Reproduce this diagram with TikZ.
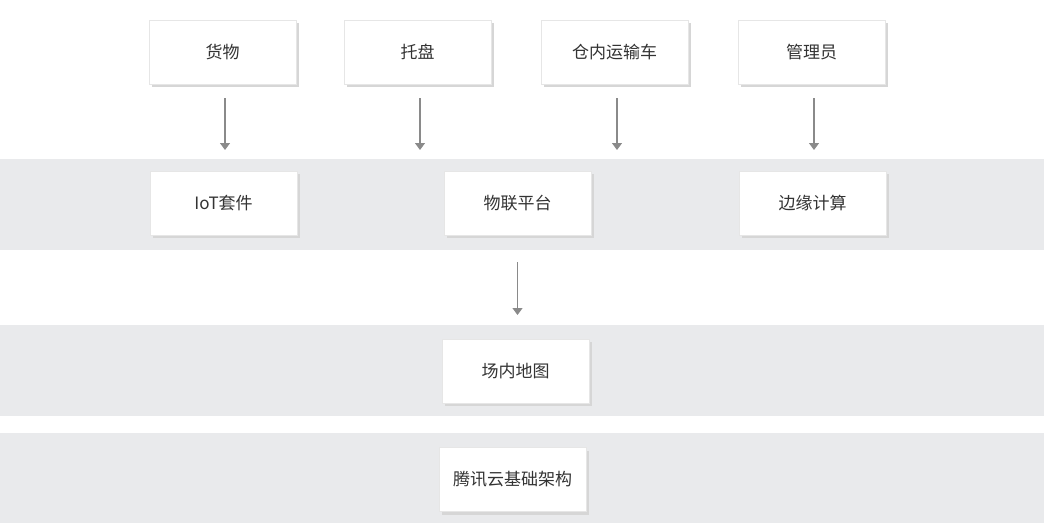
\documentclass[tikz,border=0pt]{standalone}
\usepackage{fontspec}
\setmainfont{Noto Sans CJK SC}
\usetikzlibrary{arrows.meta}
\usetikzlibrary{shadows}

\definecolor{bandgray}{HTML}{E9EAEC}
\definecolor{boxline}{HTML}{E6E6E6}
\definecolor{textgray}{HTML}{333333}
\definecolor{arrowgray}{HTML}{8A8A8A}
\definecolor{shadowgray}{HTML}{D6D6D6}

\tikzset{
    band/.style={fill=bandgray, draw=none},
    card/.style={draw=boxline, fill=white, minimum width=147pt, minimum height=64pt,
        inner sep=0pt, text=textgray, font=\fontsize{17pt}{19pt}\selectfont,
        drop shadow={shadow xshift=2.5pt, shadow yshift=-3pt, fill=shadowgray, opacity=1}},
    flow/.style={draw=arrowgray, line width=1.2pt, -{Triangle[length=7pt, width=10pt]}}
}

\begin{document}
\begin{tikzpicture}[x=1pt, y=-1pt]
    \useasboundingbox (0,0) rectangle (1048,524);

    % layers
    \fill[band] (0,159) rectangle (1044,250);
    \fill[band] (0,325) rectangle (1044,416);
    \fill[band] (0,433) rectangle (1044,523);
    \coordinate (bandA) at (0,159);
    \coordinate (bandB) at (0,325);

    % objects
    \node[card] (goods)   at (222.5, 52) {货物};
    \node[card] (pallet)  at (417.5, 52) {托盘};
    \node[card] (vehicle) at (614.5, 52) {仓内运输车};
    \node[card] (manager) at (811.5, 52) {管理员};

    % platform
    \node[card] (iot)  at (223.5, 203) {IoT套件};
    \node[card] (link) at (517.5, 203) {物联平台};
    \node[card] (edge) at (812.5, 203) {边缘计算};

    \node[card] (map)   at (515.5, 371) {场内地图};
    \node[card] (cloud) at (512.5, 479.5) {腾讯云基础架构};

    % arrows
    \foreach \src in {goods, pallet, vehicle, manager}
        \draw[flow, shorten <=14pt, shorten >=9pt] ([xshift=2.5pt]\src.south) -- ([xshift=2.5pt]\src.south |- bandA);
    \draw[flow, shorten <=27pt, shorten >=10pt] (link.south) -- (link.south |- bandB);

\end{tikzpicture}
\end{document}
